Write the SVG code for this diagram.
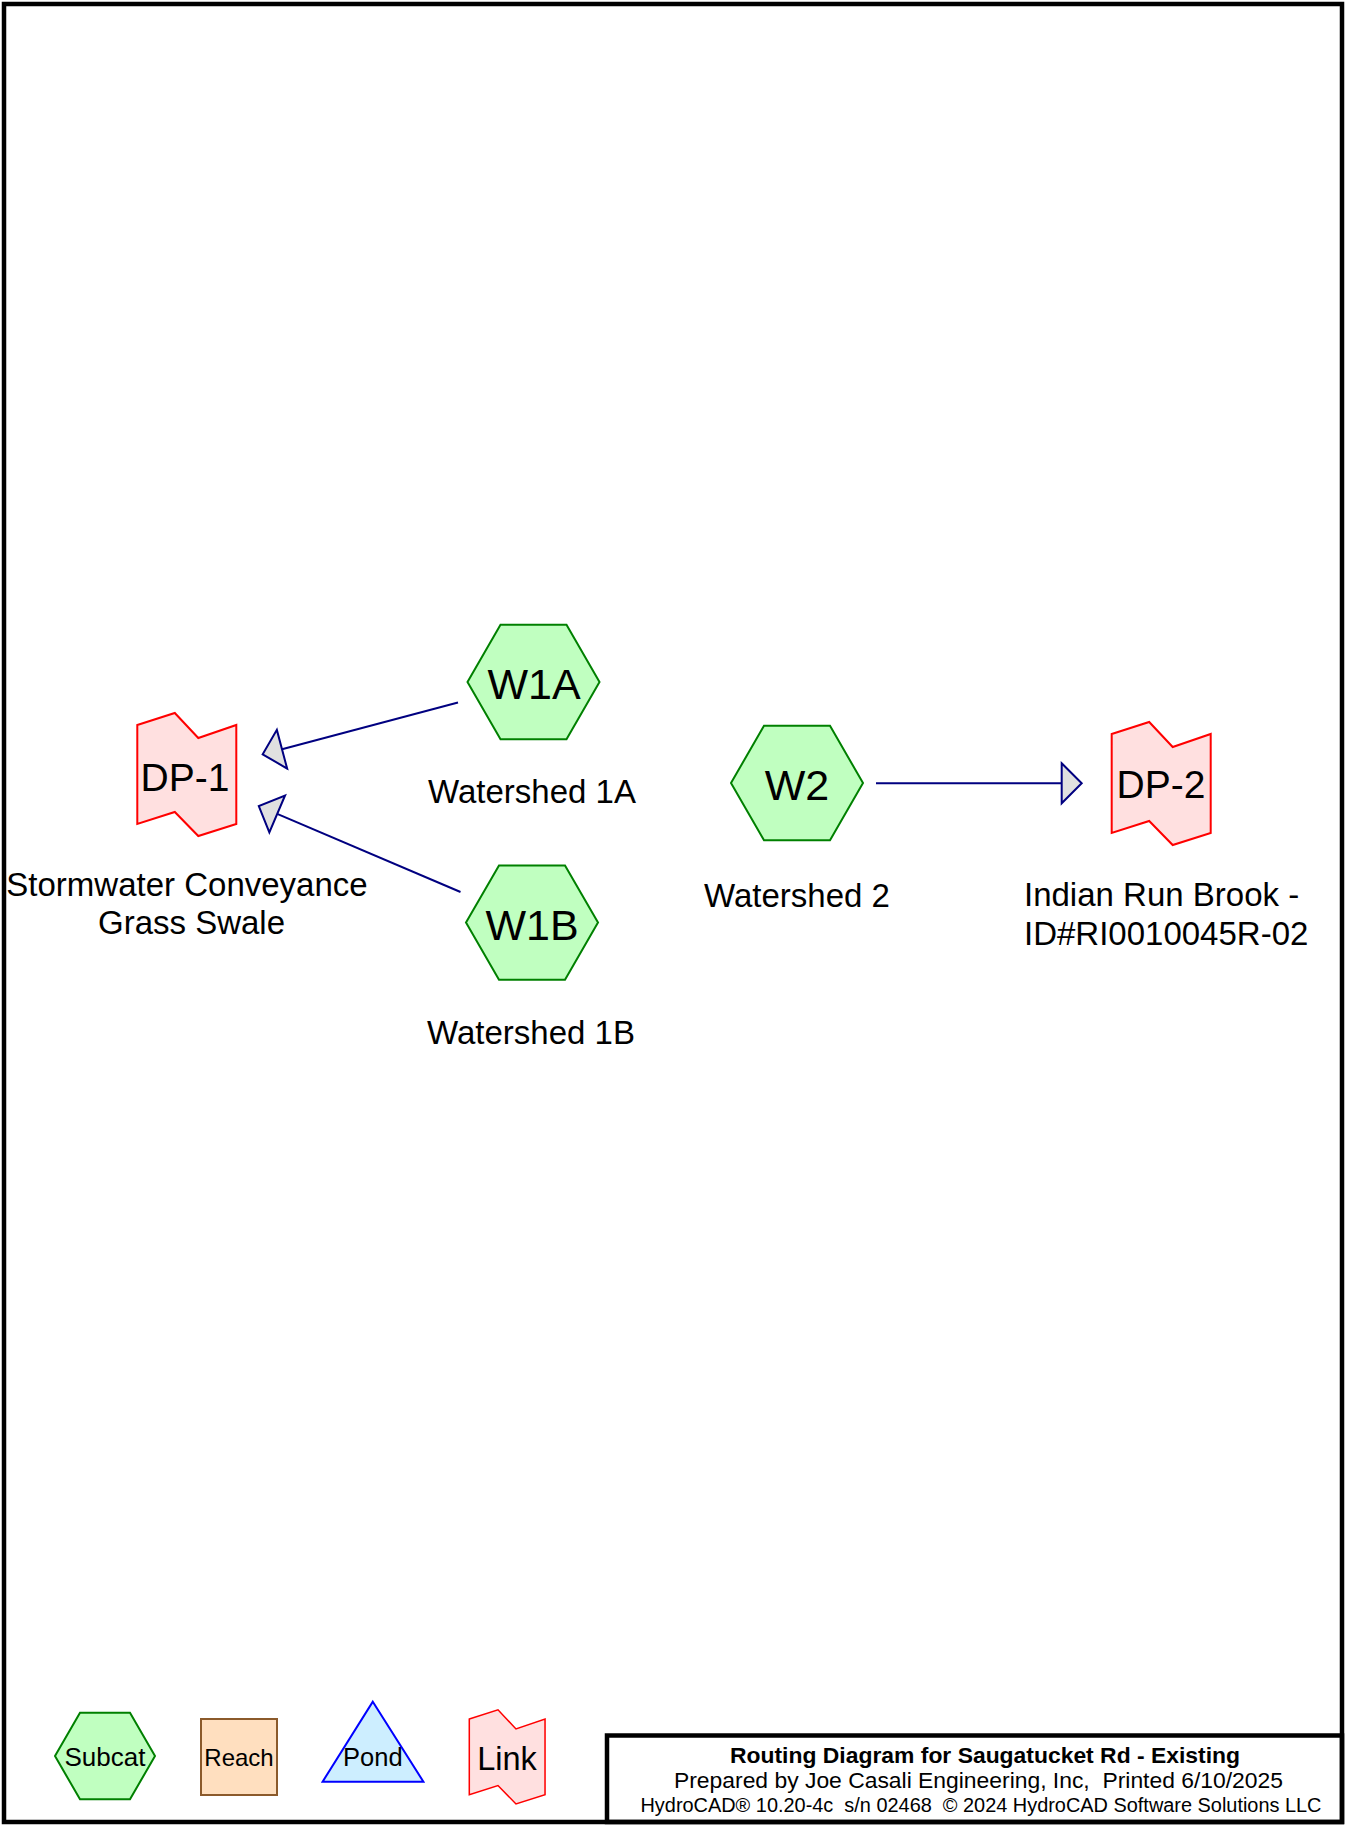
<svg xmlns="http://www.w3.org/2000/svg" xmlns:xlink="http://www.w3.org/1999/xlink" width="1345" height="1825" viewBox="0 0 1345 1825">
<style>
text{font-family:"Liberation Sans",Arial,sans-serif;fill:#000}
.hex{fill:#c0ffc0;stroke:#008000;stroke-width:2}
.link{fill:#ffe0e0;stroke:#ff0000;stroke-width:2;vector-effect:non-scaling-stroke}
.conn{stroke:#000080;stroke-width:2;fill:none}
.id{font-size:43px;text-anchor:middle}
.lid{font-size:39px;text-anchor:middle}
.lbl{font-size:33px;text-anchor:middle}
.frame{fill:none;stroke:#000;stroke-width:4.5}
.pre{white-space:pre}
</style>
<defs>
<polygon id="hex66" points="-66,0 -33,-57.2 33,-57.2 66,0 33,57.2 -33,57.2"/>
<path id="linkshape" d="M0,0 L37.5,-12 L61,13 L99,0 L99,99 L61,111 L37.5,87 L0,99 Z"/>
<marker id="arr" markerUnits="userSpaceOnUse" markerWidth="24" markerHeight="44" refX="0" refY="0" orient="auto" overflow="visible">
<path d="M0,-20 L20,0 L0,20 Z" fill="#e0e0e0" stroke="#000080" stroke-width="2" stroke-linejoin="miter"/>
</marker>
</defs>
<rect x="0" y="0" width="1345" height="1825" fill="#fff"/>
<rect class="frame" x="4" y="4" width="1338" height="1818"/>

<g id="connectors">
<line class="conn" x1="458" y1="702.5" x2="282" y2="749.2" marker-end="url(#arr)"/>
<line class="conn" x1="460.5" y1="892" x2="277.2" y2="813.9" marker-end="url(#arr)"/>
<line class="conn" x1="876" y1="783.3" x2="1061.7" y2="783.3" marker-end="url(#arr)"/>
</g>

<g id="node-W1A">
<use href="#hex66" xlink:href="#hex66" class="hex" transform="translate(533.5,682)"/>
<text class="id" x="534" y="699">W1A</text>
<text class="lbl" x="532" y="803">Watershed 1A</text>
</g>
<g id="node-W1B">
<use href="#hex66" xlink:href="#hex66" class="hex" transform="translate(532,922.6)"/>
<text class="id" x="532" y="939.6">W1B</text>
<text class="lbl" x="531" y="1044">Watershed 1B</text>
</g>
<g id="node-W2">
<use href="#hex66" xlink:href="#hex66" class="hex" transform="translate(797,783)"/>
<text class="id" x="797" y="800">W2</text>
<text class="lbl" x="797" y="906.5">Watershed 2</text>
</g>
<g id="node-DP-1">
<use href="#linkshape" xlink:href="#linkshape" class="link" transform="translate(137.3,725)"/>
<text class="lid" x="185" y="790.7">DP-1</text>
<text class="lbl" x="187" y="896">Stormwater Conveyance</text>
<text class="lbl" x="191.5" y="934">Grass Swale</text>
</g>
<g id="node-DP-2">
<use href="#linkshape" xlink:href="#linkshape" class="link" transform="translate(1111.7,734)"/>
<text class="lid" x="1161" y="798.3">DP-2</text>
<text class="lbl" x="1024" y="906" style="text-anchor:start">Indian Run Brook -</text>
<text class="lbl" x="1024" y="944.8" style="text-anchor:start">ID#RI0010045R-02</text>
</g>

<g id="legend">
<g id="legend-subcat">
<polygon class="hex" points="55,1756 80,1712.7 130,1712.7 155,1756 130,1799.3 80,1799.3"/>
<text x="105" y="1766" style="font-size:26px;text-anchor:middle">Subcat</text>
</g>
<g id="legend-reach">
<rect x="201" y="1719" width="76" height="76" fill="#ffdfbf" stroke="#8b5a2b" stroke-width="2"/>
<text x="239" y="1766" style="font-size:24px;text-anchor:middle">Reach</text>
</g>
<g id="legend-pond">
<polygon points="372.8,1701.7 423.4,1781.7 322.6,1781.7" fill="#cdeeff" stroke="#0000ff" stroke-width="2"/>
<text x="372.8" y="1766" style="font-size:25.5px;text-anchor:middle">Pond</text>
</g>
<g id="legend-link">
<use href="#linkshape" xlink:href="#linkshape" class="link" transform="translate(469.3,1719) scale(0.765)"/>
<text x="507" y="1770" style="font-size:32.5px;text-anchor:middle">Link</text>
</g>
</g>

<g id="title-block">
<rect class="frame" x="607" y="1735.5" width="735" height="86.5"/>
<text x="985" y="1763.3" style="font-size:22px;font-weight:bold;text-anchor:middle" textLength="510" lengthAdjust="spacingAndGlyphs">Routing Diagram for Saugatucket Rd - Existing</text>
<text class="pre" xml:space="preserve" x="978.5" y="1788.3" style="font-size:22px;text-anchor:middle" textLength="609" lengthAdjust="spacingAndGlyphs">Prepared by Joe Casali Engineering, Inc,  Printed 6/10/2025</text>
<text class="pre" xml:space="preserve" x="981" y="1811.7" style="font-size:19.5px;text-anchor:middle" textLength="681" lengthAdjust="spacingAndGlyphs">HydroCAD® 10.20-4c  s/n 02468  © 2024 HydroCAD Software Solutions LLC</text>
</g>
</svg>
